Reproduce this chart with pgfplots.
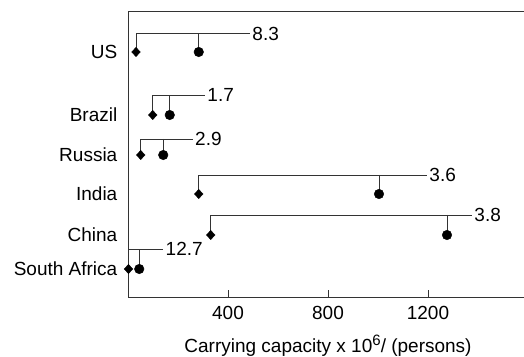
\documentclass[border=0pt]{standalone}
\usepackage{fontspec}
\setmainfont{Liberation Sans}
\usepackage{pgfplots}
\pgfplotsset{compat=1.18}
\newcommand{\ff}{\fontsize{19bp}{23bp}\selectfont}
\begin{document}
\begin{tikzpicture}
\begin{axis}[
  scale only axis,
  width=400bp, height=286bp,
  xmin=0, xmax=1600,
  ymin=-297, ymax=-11,
  axis line style={black!80, line width=0.9bp},
  xtick={400,800,1200},
  tick align=inside,
  xtick pos=bottom,
  major tick length=7bp,
  tick style={black!80, line width=0.9bp},
  ytick={-52,-115,-155,-194,-235,-269},
  yticklabels={US,Brazil,Russia,India,China,South Africa},
  ytick style={draw=none},
  ytick pos=left,
  /pgf/number format/assume math mode=true,
  /pgf/number format/set thousands separator={},
  yticklabel style={font=\ff, inner sep=0pt, xshift=-10.5bp},
  xticklabel style={font=\ff, inner sep=0pt, yshift=-9bp},
  xlabel={Carrying capacity x 10{\fontsize{15bp}{17bp}\selectfont\raisebox{7bp}{6}}/ (persons)},
  xlabel style={font=\ff, at={(axis description cs:0.5,0)}, anchor=base, yshift=-55bp},
  clip=false,
]
% brackets: diamond vertical + horizontal
\addplot[black!80, line width=0.9bp] coordinates {(32,-52) (32,-33.7) (488,-33.7)} node[anchor=west, inner sep=2bp, font=\ff, black] {8.3};
\addplot[black!80, line width=0.9bp] coordinates {(283,-33.7) (283,-52)};
\addplot[black!80, line width=0.9bp] coordinates {(99,-115) (99,-95.3) (308,-95.3)} node[anchor=west, inner sep=2bp, font=\ff, black] {1.7};
\addplot[black!80, line width=0.9bp] coordinates {(167,-95.3) (167,-115)};
\addplot[black!80, line width=0.9bp] coordinates {(51,-155) (51,-139) (259,-139)} node[anchor=west, inner sep=2bp, font=\ff, black] {2.9};
\addplot[black!80, line width=0.9bp] coordinates {(141,-139) (141,-155)};
\addplot[black!80, line width=0.9bp] coordinates {(283,-194) (283,-175) (1196,-175)} node[anchor=west, inner sep=2bp, font=\ff, black] {3.6};
\addplot[black!80, line width=0.9bp] coordinates {(1004,-175) (1004,-194)};
\addplot[black!80, line width=0.9bp] coordinates {(331,-235) (331,-215) (1376,-215)} node[anchor=west, inner sep=2bp, font=\ff, black] {3.8};
\addplot[black!80, line width=0.9bp] coordinates {(1276,-215) (1276,-235)};
\addplot[black!80, line width=0.9bp] coordinates {(2,-269) (2,-249.3) (141,-249.3)} node[anchor=west, inner sep=2bp, font=\ff, black] {12.7};
\addplot[black!80, line width=0.9bp] coordinates {(45,-249.3) (45,-269)};
% diamonds
\addplot[only marks, mark=diamond*, mark size=4.6bp, mark options={xscale=1.25}, black] coordinates {
  (32,-52) (99,-115) (51,-155) (283,-194) (331,-235) (2,-269)};
% circles
\addplot[only marks, mark=*, mark size=4.8bp, black] coordinates {
  (283,-52) (167,-115) (141,-155) (1004,-194) (1276,-235) (45,-269)};
\end{axis}
\pgfresetboundingbox
\path[use as bounding box] (current axis.south west) ++(-128bp,-60bp) rectangle ++(524bp,357bp);
\end{tikzpicture}
\end{document}
